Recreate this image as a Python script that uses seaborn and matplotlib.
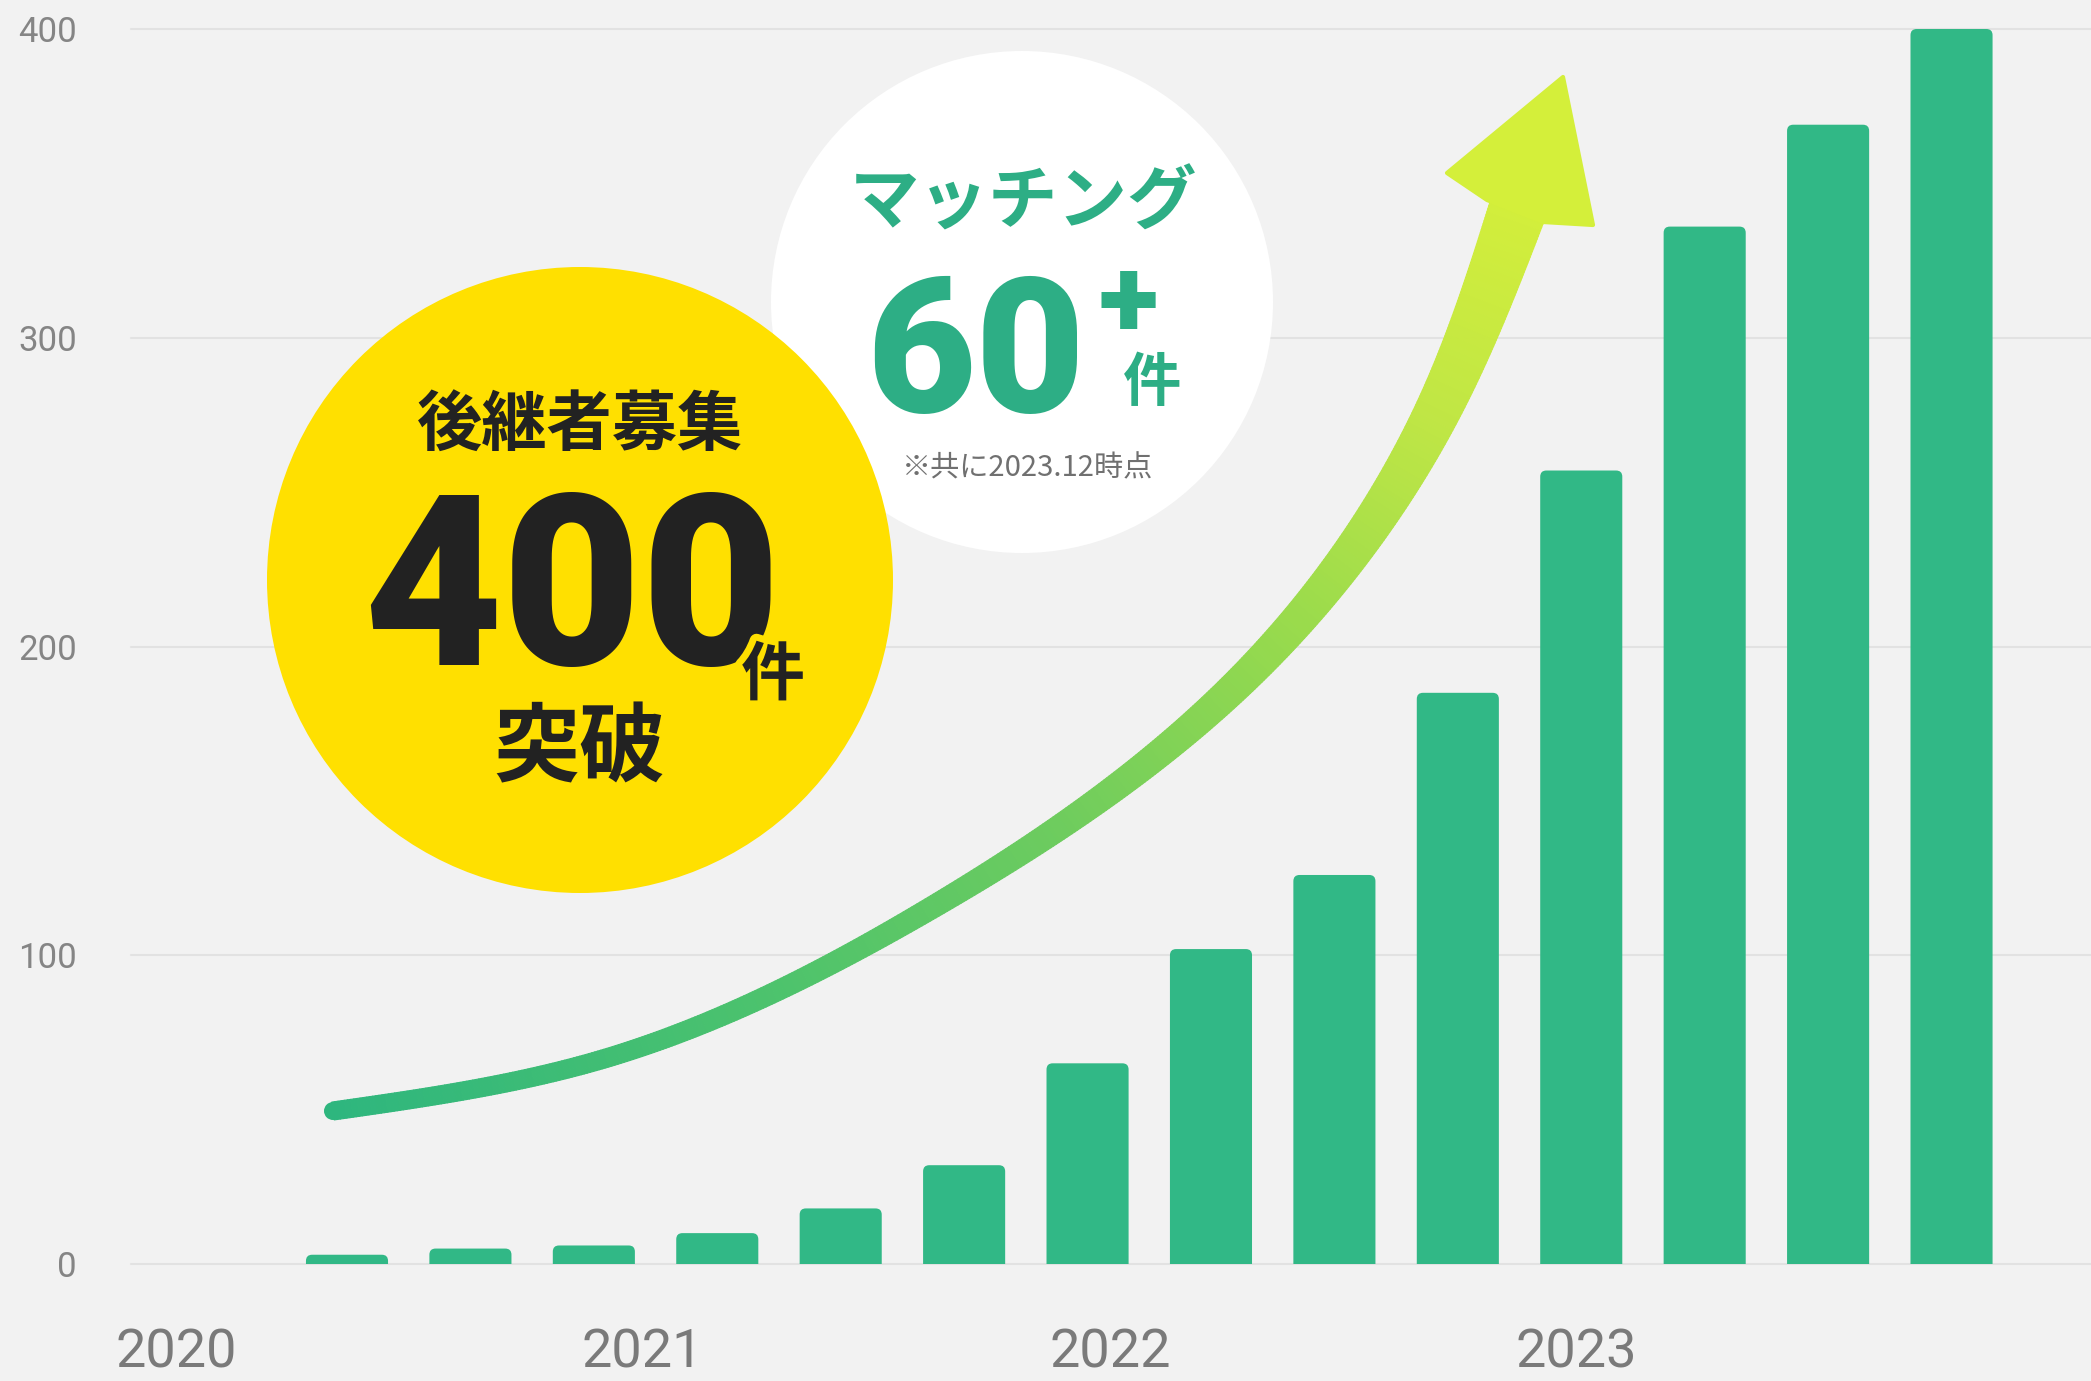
import numpy as np
import pandas as pd
import matplotlib
matplotlib.use("Agg")
import matplotlib.pyplot as plt
import matplotlib.patheffects as pe
import seaborn as sns
from matplotlib.patches import Circle, Polygon, FancyBboxPatch
from matplotlib.collections import PolyCollection
from matplotlib.colors import LinearSegmentedColormap

# data (quarterly cumulative listings, as of 2023.12)
quarters = ["2020Q3", "2020Q4", "2021Q1", "2021Q2", "2021Q3", "2021Q4", "2022Q1",
            "2022Q2", "2022Q3", "2022Q4", "2023Q1", "2023Q2", "2023Q3", "2023Q4"]
counts = [3, 5, 6, 10, 18, 32, 65, 102, 126, 185, 257, 336, 369, 400]
year_labels = ["2020", "2021", "2022", "2023"]
y_ticks = [0, 100, 200, 300, 400]

# layout
W, H = 2091, 1381
year_pos = [-1.38, 2.39, 6.18, 9.96]
BG = "#F2F2F2"
BAR = "#31B886"
GREEN_TXT = "#2DAE85"
DARK = "#222222"
YELLOW = "#FFE000"

sns.set_theme(style="whitegrid")
plt.rcParams["font.family"] = ["Roboto", "Noto Sans CJK JP", "DejaVu Sans"]

df = pd.DataFrame({"quarter": quarters, "count": counts})

fig = plt.figure(figsize=(W / 100, H / 100), dpi=100, facecolor=BG)
ax = fig.add_axes([131 / W, 1 - 1264 / H, (W - 131) / W, (1264 - 29) / H])
ax.set_facecolor(BG)

sns.barplot(data=df, x="quarter", y="count", order=quarters, color=BAR,
            saturation=1, width=0.665, ax=ax)

# rounded tops for the bars
r = 0.05
asp = 40
for p in list(ax.patches):
    x, w, h = p.get_x(), p.get_width(), p.get_height()
    p.remove()
    ax.add_patch(FancyBboxPatch((x, -3), w, h + 3,
                                boxstyle=f"round,pad=0,rounding_size={r}",
                                mutation_aspect=asp, facecolor=BAR,
                                edgecolor="none", zorder=2))

ax.set_xlim(-1.75, 14.13)
ax.set_ylim(0, 400)
ax.set_yticks(y_ticks)
ax.set_xticks(year_pos, year_labels)
ax.set(xlabel="", ylabel="")
ax.grid(False)
ax.yaxis.grid(True, color="#E2E2E2", linewidth=1.5)
for gl in ax.get_ygridlines():
    gl.set_clip_on(False)
ax.set_axisbelow(True)
for sp in ax.spines.values():
    sp.set_visible(False)
ax.tick_params(axis="y", labelsize=25, labelcolor="#858585", length=0, pad=39)
ax.tick_params(axis="x", labelsize=39, labelcolor="#7A7A7A", length=0, pad=46)

# overlay in pixel coordinates
ov = fig.add_axes([0, 0, 1, 1], zorder=3)
ov.set_xlim(0, W)
ov.set_ylim(H, 0)
ov.axis("off")
ov.patch.set_alpha(0)

ov.add_patch(Circle((1022, 302), 251, facecolor="white", edgecolor="none"))
ov.add_patch(Circle((580, 580), 313, facecolor=YELLOW, edgecolor="none"))

# curved gradient arrow: natural cubic spline through traced guide points
pts = np.array([(333, 1111), (600, 1060), (933, 907), (1252, 670),
                (1443, 400), (1520, 203)], float)


def nat_spline(u, v, uu):
    n = len(u) - 1
    h = np.diff(u)
    A = np.zeros((n + 1, n + 1))
    b = np.zeros(n + 1)
    A[0, 0] = A[n, n] = 1
    for i in range(1, n):
        A[i, i - 1] = h[i - 1]
        A[i, i] = 2 * (h[i - 1] + h[i])
        A[i, i + 1] = h[i]
        b[i] = 6 * ((v[i + 1] - v[i]) / h[i] - (v[i] - v[i - 1]) / h[i - 1])
    M = np.linalg.solve(A, b)
    k = np.clip(np.searchsorted(u, uu, side="right") - 1, 0, n - 1)
    t0, t1 = uu - u[k], u[k + 1] - uu
    return (M[k] * t1 ** 3 + M[k + 1] * t0 ** 3) / (6 * h[k]) \
        + (v[k] / h[k] - M[k] * h[k] / 6) * t1 + (v[k + 1] / h[k] - M[k + 1] * h[k] / 6) * t0


u = np.concatenate([[0], np.cumsum(np.hypot(*np.diff(pts, axis=0).T))])
uu = np.linspace(0, u[-1], 500)
c = np.column_stack([nat_spline(u, pts[:, 0], uu), nat_spline(u, pts[:, 1], uu)])

seg = np.hypot(*np.diff(c, axis=0).T)
s = np.concatenate([[0], np.cumsum(seg)])
s /= s[-1]
tan = np.gradient(c, axis=0)
tan /= np.hypot(tan[:, 0], tan[:, 1])[:, None]
nrm = np.column_stack([-tan[:, 1], tan[:, 0]])
wid = 18 + 40 * s ** 2.6
L = c + nrm * wid[:, None] / 2
R = c - nrm * wid[:, None] / 2
quads = [[L[i], L[i + 1], R[i + 1], R[i]] for i in range(len(c) - 1)]
cmap = LinearSegmentedColormap.from_list(
    "arrow", [(0, "#2EB67E"), (0.3, "#4EC36C"), (0.5, "#6ECC5E"),
              (0.7, "#9ADB4C"), (0.85, "#BFE645"), (1, "#D3EE3B")])
cols = cmap((s[:-1] + s[1:]) / 2)
ov.add_patch(Circle(tuple(c[0]), wid[0] / 2, facecolor=cols[0], edgecolor="none"))
ov.add_collection(PolyCollection(quads, facecolors=cols, edgecolors=cols, linewidths=0.8))
ov.add_patch(Polygon([(1563, 77), (1447, 173), (1487, 200), (1543, 222), (1593, 225)],
                     closed=True, facecolor="#D4EF3A", edgecolor="#D4EF3A",
                     linewidth=3, joinstyle="round"))

cjk = ["Noto Sans CJK JP", "DejaVu Sans"]
num = ["Roboto", "DejaVu Sans"]

# yellow badge
ov.text(580, 426, "後継者募集", family=cjk, fontsize=47, fontweight="bold",
        color=DARK, ha="center", va="center")
ov.text(572, 665, "400", family=num, fontsize=173, fontweight="black",
        color=DARK, ha="center", va="baseline")
ov.text(773, 676, "件", family=cjk, fontsize=46, fontweight="bold",
        color=DARK, ha="center", va="center",
        path_effects=[pe.withStroke(linewidth=10, foreground=YELLOW)])
ov.text(580, 750, "突破", family=cjk, fontsize=62, fontweight="bold",
        color=DARK, ha="center", va="center")

# white badge
ov.text(1024, 203, "マッチング", family=cjk, fontsize=50, fontweight="bold",
        color=GREEN_TXT, ha="center", va="center")
ov.text(976, 412, "60", family=num, fontsize=136, fontweight="black",
        color=GREEN_TXT, ha="center", va="baseline")
ov.text(1128, 307, "+", family=num, fontsize=80, fontweight="black",
        color=GREEN_TXT, ha="center", va="center")
ov.text(1152, 384, "件", family=cjk, fontsize=42, fontweight="bold",
        color=GREEN_TXT, ha="center", va="center")
ov.text(1027, 468, "※共に2023.12時点", family=cjk, fontsize=21,
        color="#707070", ha="center", va="center")

fig.savefig("out.png", dpi=100, facecolor=BG)
